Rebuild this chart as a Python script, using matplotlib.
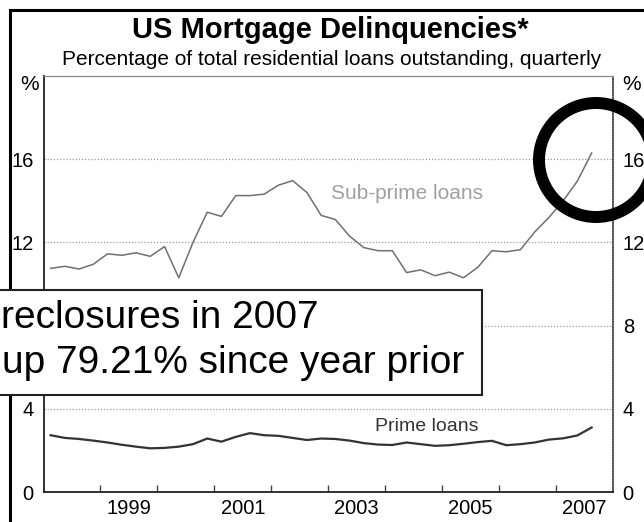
import matplotlib
matplotlib.use("Agg")
import matplotlib.pyplot as plt
from matplotlib.lines import Line2D
from matplotlib.patches import Ellipse, Rectangle
import pandas as pd

plt.rcParams["font.family"] = ["Liberation Sans", "DejaVu Sans"]

# Quarterly data, 1998Q1 - 2007Q3
quarters = pd.period_range("1998Q1", "2007Q3", freq="Q")
subprime = [10.75, 10.85, 10.72, 10.95, 11.45, 11.38, 11.5, 11.33, 11.8, 10.3,
            12.0, 13.45, 13.25, 14.25, 14.25, 14.32, 14.75, 14.97, 14.4, 13.3,
            13.1, 12.3, 11.75, 11.6, 11.6, 10.55, 10.68, 10.4, 10.57, 10.3,
            10.8, 11.6, 11.55, 11.65, 12.5, 13.2, 14.0, 14.95, 16.3]
prime = [2.73, 2.6, 2.55, 2.47, 2.38, 2.27, 2.18, 2.1, 2.12, 2.18,
         2.3, 2.57, 2.42, 2.65, 2.83, 2.73, 2.7, 2.6, 2.5, 2.57,
         2.55, 2.47, 2.35, 2.28, 2.26, 2.38, 2.3, 2.22, 2.25, 2.32,
         2.4, 2.46, 2.25, 2.3, 2.38, 2.52, 2.58, 2.72, 3.1]
year_labels = ["1999", "2001", "2003", "2005", "2007"]
y_ticks = [0, 4, 8, 12, 16]

# quarter mid-points as decimal years
x = [q.year + (q.quarter - 1) * 0.25 + 0.125 for q in quarters]

W, H = 644, 522
fig = plt.figure(figsize=(W / 100, H / 100), dpi=100)


def fx(px):
    return px / W


def fy(py):
    return 1 - py / H


ax = fig.add_axes([fx(43.5), fy(492), fx(613) - fx(43.5), fy(76) - fy(492)])
ax.set_xlim(1998, 2008)
ax.set_ylim(0, 20)

ax.plot(x, subprime, color="#707070", lw=1.1)
ax.plot(x, prime, color="#333333", lw=1.6)

for v in [4, 8, 12, 16]:
    ax.axhline(v, color="#9a9a9a", lw=0.9, ls=(0, (1, 1.5)), zorder=0)

ax.text(2004.38, 14.35, "Sub-prime loans", fontsize=15, color="#a0a0a0",
        ha="center", va="center")
ax.text(2004.73, 3.14, "Prime loans", fontsize=14, color="#333333",
        ha="center", va="center")

# x axis: year boundary ticks, labels in the middle of odd years
ax.set_xticks(range(1999, 2008))
ax.set_xticklabels([])
ax.tick_params(axis="x", which="major", direction="in", length=5,
               color="#444444", width=1)
ax.set_xticks([int(y) + 0.5 for y in year_labels], minor=True)
ax.set_xticklabels(year_labels, minor=True, fontsize=14.5)
ax.tick_params(axis="x", which="minor", length=0, pad=5)

ax.set_yticks(y_ticks)
ax.set_yticklabels([str(v) for v in y_ticks], fontsize=14.5)
ax.tick_params(axis="y", length=0, labelright=True, pad=7)
# the left "8" sits behind the annotation box
ax.yaxis.get_major_ticks()[2].label1.set_visible(False)

for side in ["left", "bottom"]:
    ax.spines[side].set_color("#222222")
    ax.spines[side].set_linewidth(1.3)
ax.spines["right"].set_color("#555555")
ax.spines["right"].set_linewidth(1.2)
ax.spines["right"].set_linestyle((0, (1, 0.6)))
ax.spines["top"].set_color("#888888")
ax.spines["top"].set_linewidth(0.9)
ax.spines["top"].set_linestyle((0, (1, 1)))

fig.text(fx(29.5), fy(85), "%", fontsize=15, ha="center", va="center")
fig.text(fx(632), fy(85), "%", fontsize=15, ha="center", va="center")

# titles
fig.text(fx(330), fy(38), "US Mortgage Delinquencies*", fontsize=21,
         fontweight="bold", ha="center", va="baseline")
fig.text(fx(331.5), fy(65),
         "Percentage of total residential loans outstanding, quarterly",
         fontsize=15, ha="center", va="baseline")

# outer frame
fig.add_artist(Line2D([fx(10), fx(10)], [fy(10), fy(H + 5)], color="black", lw=2.2))
fig.add_artist(Line2D([fx(10), fx(W + 5)], [fy(10), fy(10)], color="black", lw=2.2))

# annotation box
fig.add_artist(Rectangle((fx(-5), fy(395)), fx(482 + 5), fy(290) - fy(395),
                         transform=fig.transFigure, facecolor="white",
                         edgecolor="#222222", lw=1.5, zorder=5))
fig.text(fx(1), fy(328), "reclosures in 2007", fontsize=28, ha="left",
         va="baseline", zorder=6)
fig.text(fx(2), fy(373), "up 79.21% since year prior", fontsize=28,
         ha="left", va="baseline", zorder=6)

# highlight circle
fig.add_artist(Ellipse((fx(596), fy(160)), 114 / W, 114 / H,
                       transform=fig.transFigure, fill=False,
                       edgecolor="black", lw=8.6, zorder=7))

fig.savefig("out.png", dpi=100)
